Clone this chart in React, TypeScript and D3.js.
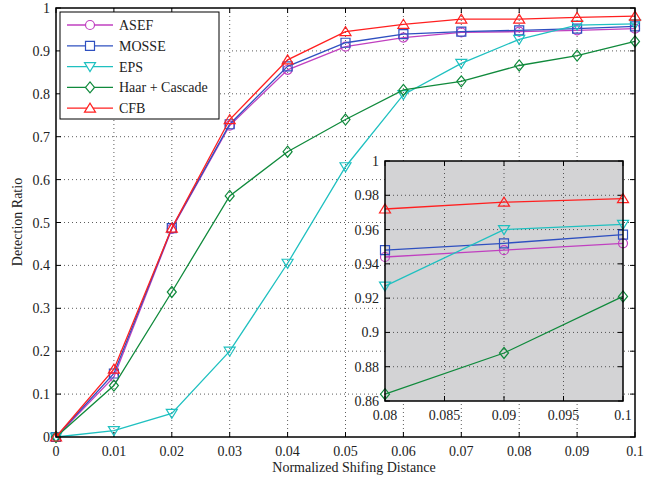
import * as d3 from 'd3';

// shifting distance (x) and detection ratios per method
const distances = [0, 0.01, 0.02, 0.03, 0.04, 0.05, 0.06, 0.07, 0.08, 0.09, 0.1];
const asef = [0, 0.14, 0.485, 0.726, 0.856, 0.91, 0.931, 0.943, 0.945, 0.948, 0.952];
const mosse = [0, 0.148, 0.487, 0.729, 0.864, 0.919, 0.939, 0.945, 0.948, 0.952, 0.957];
const eps = [0, 0.015, 0.055, 0.2, 0.405, 0.63, 0.798, 0.871, 0.927, 0.96, 0.963];
const haar = [0, 0.12, 0.338, 0.562, 0.665, 0.74, 0.809, 0.829, 0.866, 0.889, 0.922];
const cfb = [0, 0.158, 0.487, 0.74, 0.879, 0.945, 0.962, 0.974, 0.974, 0.978, 0.981];

// zoomed inset (0.08 - 0.1)
const insetDistances = [0.08, 0.09, 0.1];
const insetAsef = [0.944, 0.948, 0.952];
const insetMosse = [0.948, 0.952, 0.957];
const insetEps = [0.927, 0.96, 0.963];
const insetHaar = [0.864, 0.888, 0.921];
const insetCfb = [0.972, 0.976, 0.978];

const xTicks = [0, 0.01, 0.02, 0.03, 0.04, 0.05, 0.06, 0.07, 0.08, 0.09, 0.1];
const xTickLabels = ['0', '0.01', '0.02', '0.03', '0.04', '0.05', '0.06', '0.07', '0.08', '0.09', '0.1'];
const yTicks = [0, 0.1, 0.2, 0.3, 0.4, 0.5, 0.6, 0.7, 0.8, 0.9, 1];
const yTickLabels = ['0', '0.1', '0.2', '0.3', '0.4', '0.5', '0.6', '0.7', '0.8', '0.9', '1'];
const insetXTicks = [0.08, 0.085, 0.09, 0.095, 0.1];
const insetXTickLabels = ['0.08', '0.085', '0.09', '0.095', '0.1'];
const insetYTicks = [0.86, 0.88, 0.9, 0.92, 0.94, 0.96, 0.98, 1];
const insetYTickLabels = ['0.86', '0.88', '0.9', '0.92', '0.94', '0.96', '0.98', '1'];

const seriesNames = ['ASEF', 'MOSSE', 'EPS', 'Haar + Cascade', 'CFB'];
const seriesColors = ['#C040C0', '#2F50C0', '#1FC0C0', '#108A3C', '#FF2020'];
const seriesMarkers = ['circle', 'square', 'triangleDown', 'diamond', 'triangleUp'];
const mainData = [asef, mosse, eps, haar, cfb];
const insetData = [insetAsef, insetMosse, insetEps, insetHaar, insetCfb];

const FONT = '"Liberation Serif", "Times New Roman", serif';

function markerPath(type: string, x: number, y: number): string {
  const s = 4.5;
  switch (type) {
    case 'circle':
      return `M${x - s},${y}a${s},${s} 0 1,0 ${2 * s},0a${s},${s} 0 1,0 ${-2 * s},0Z`;
    case 'square':
      return `M${x - s},${y - s}h${2 * s}v${2 * s}h${-2 * s}Z`;
    case 'triangleDown':
      return `M${x - 5.5},${y - 4}h11L${x},${y + 5}Z`;
    case 'triangleUp':
      return `M${x - 5.5},${y + 4}h11L${x},${y - 5}Z`;
    case 'diamond':
      return `M${x},${y - 5.5}L${x + 4.5},${y}L${x},${y + 5.5}L${x - 4.5},${y}Z`;
  }
  return '';
}

function Frame({ x, y, xTickVals, yTickVals, xLabels, yLabels, left, right, top, bottom, fill }: any) {
  const tick = 5;
  return (
    <g>
      <rect x={left} y={top} width={right - left} height={bottom - top} fill={fill} />
      {xTickVals.slice(1, -1).map((t: number, i: number) => (
        <line key={'gx' + i} x1={x(t)} x2={x(t)} y1={top} y2={bottom} stroke="#333" strokeWidth={0.8} strokeDasharray="1,3" />
      ))}
      {yTickVals.slice(1, -1).map((t: number, i: number) => (
        <line key={'gy' + i} x1={left} x2={right} y1={y(t)} y2={y(t)} stroke="#333" strokeWidth={0.8} strokeDasharray="1,3" />
      ))}
      {xTickVals.map((t: number, i: number) => (
        <g key={'tx' + i}>
          <line x1={x(t)} x2={x(t)} y1={bottom} y2={bottom - tick} stroke="#000" />
          <line x1={x(t)} x2={x(t)} y1={top} y2={top + tick} stroke="#000" />
          <text x={x(t)} y={bottom + 19} textAnchor="middle" fontSize={14} fontFamily={FONT} fill="#222">{xLabels[i]}</text>
        </g>
      ))}
      {yTickVals.map((t: number, i: number) => (
        <g key={'ty' + i}>
          <line x1={left} x2={left + tick} y1={y(t)} y2={y(t)} stroke="#000" />
          <line x1={right} x2={right - tick} y1={y(t)} y2={y(t)} stroke="#000" />
          <text x={left - 6} y={y(t) + 5} textAnchor="end" fontSize={14} fontFamily={FONT} fill="#222">{yLabels[i]}</text>
        </g>
      ))}
    </g>
  );
}

function Series({ xs, data, x, y }: any) {
  return (
    <g>
      {data.map((vals: number[], si: number) => {
        const line = d3.line<number>().x((_, i) => x(xs[i])).y((d) => y(d));
        return (
          <g key={si}>
            <path d={line(vals) || ''} fill="none" stroke={seriesColors[si]} strokeWidth={1.3} />
            {vals.map((v, i) => (
              <path key={i} d={markerPath(seriesMarkers[si], x(xs[i]), y(v))} fill="none" stroke={seriesColors[si]} strokeWidth={1.2} />
            ))}
          </g>
        );
      })}
    </g>
  );
}

export default function App() {
  const left = 56, right = 635, top = 8, bottom = 437;
  const x = d3.scaleLinear().domain([0, 0.1]).range([left, right]);
  const y = d3.scaleLinear().domain([0, 1]).range([bottom, top]);

  const iLeft = 385, iRight = 623, iTop = 161, iBottom = 401;
  const ix = d3.scaleLinear().domain([0.08, 0.1]).range([iLeft, iRight]);
  const iy = d3.scaleLinear().domain([0.86, 1]).range([iBottom, iTop]);

  return (
    <svg width={659} height={479} style={{ position: 'absolute', left: 0, top: 0, background: '#fff' }}>
      <Frame x={x} y={y} xTickVals={xTicks} yTickVals={yTicks} xLabels={xTickLabels} yLabels={yTickLabels}
        left={left} right={right} top={top} bottom={bottom} fill="#fff" />
      <Series xs={distances} data={mainData} x={x} y={y} />
      <rect x={left} y={top} width={right - left} height={bottom - top} fill="none" stroke="#000" strokeWidth={1.5} />

      <text x={354} y={472} textAnchor="middle" fontSize={14} fontFamily={FONT} fill="#222">Normalized Shifing Distance</text>
      <text transform="translate(22,222) rotate(-90)" textAnchor="middle" fontSize={14} fontFamily={FONT} fill="#222">Detection Ratio</text>

      {/* legend */}
      <g>
        <rect x={60} y={12} width={159} height={107} fill="#fff" stroke="#000" strokeWidth={1} />
        {seriesNames.map((name, i) => {
          const ly = 25 + i * 20.8;
          return (
            <g key={name}>
              <line x1={67} x2={113} y1={ly} y2={ly} stroke={seriesColors[i]} strokeWidth={1.3} />
              <path d={markerPath(seriesMarkers[i], 90, ly)} fill="#fff" stroke={seriesColors[i]} strokeWidth={1.2} />
              <text x={119} y={ly + 5} fontSize={14} fontFamily={FONT} fill="#222">{name}</text>
            </g>
          );
        })}
      </g>

      {/* inset */}
      <Frame x={ix} y={iy} xTickVals={insetXTicks} yTickVals={insetYTicks} xLabels={insetXTickLabels} yLabels={insetYTickLabels}
        left={iLeft} right={iRight} top={iTop} bottom={iBottom} fill="#D3D3D5" />
      <Series xs={insetDistances} data={insetData} x={ix} y={iy} />
      <rect x={iLeft} y={iTop} width={iRight - iLeft} height={iBottom - iTop} fill="none" stroke="#000" strokeWidth={1.5} />
    </svg>
  );
}
